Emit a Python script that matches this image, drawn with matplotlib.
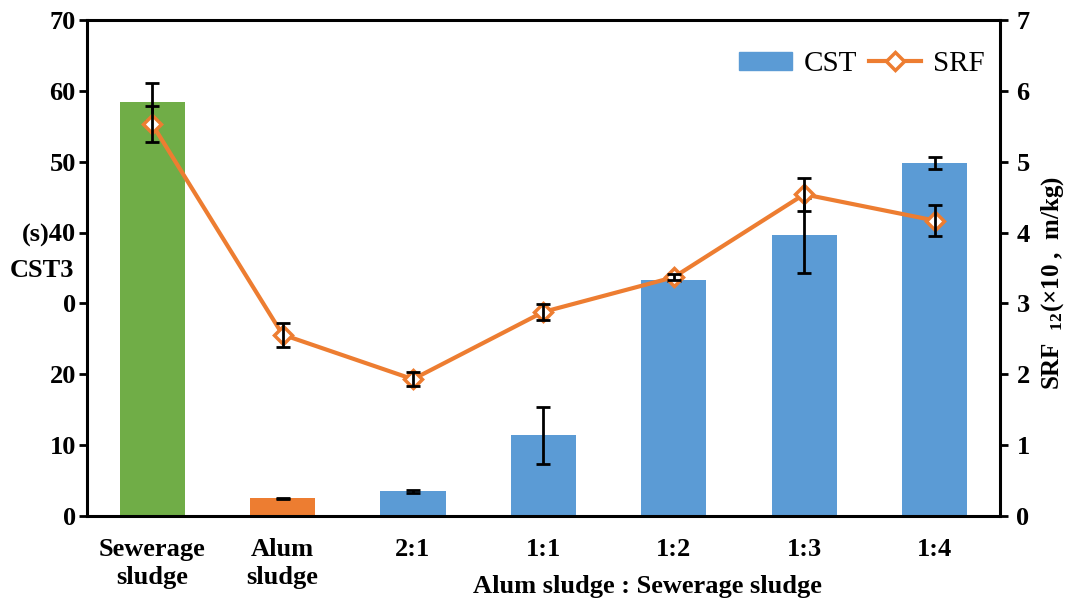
import numpy as np
import matplotlib.pyplot as plt
from matplotlib.patches import Patch
from matplotlib.transforms import blended_transform_factory

plt.rcParams['font.family'] = ['Liberation Serif', 'DejaVu Serif']

# данные
categories = ['Sewerage\nsludge', 'Alum\nsludge', '2:1', '1:1', '1:2', '1:3', '1:4']
cst = [58.4, 2.5, 3.5, 11.4, 33.3, 39.6, 49.8]
cst_err = [2.7, 0.1, 0.2, 4.0, 0.1, 5.3, 0.8]
srf = [5.53, 2.56, 1.93, 2.88, 3.37, 4.54, 4.17]
srf_err = [0.25, 0.17, 0.1, 0.11, 0.04, 0.23, 0.22]
bar_colors = ['#70AD47', '#ED7D31', '#5B9BD5', '#5B9BD5', '#5B9BD5', '#5B9BD5', '#5B9BD5']
left_ticks = [0, 10, 20, 30, 40, 50, 60, 70]
left_labels = ['0', '10', '20', '0', '(s)40', '50', '60', '70']

fig = plt.figure(figsize=(10.67, 6.04), dpi=100)
ax = fig.add_axes([0.0815, 0.1457, 0.8555, 0.8212])
x = np.arange(len(categories))

ax.bar(x, cst, width=0.5, color=bar_colors, zorder=2)
ax.errorbar(x, cst, yerr=cst_err, fmt='none', ecolor='black', elinewidth=2,
            capsize=5, capthick=2, zorder=3)
ax.set_xlim(-0.5, 6.5)
ax.set_ylim(0, 70)
ax.set_yticks(left_ticks)
ax.set_yticklabels(left_labels)
ax.set_xticks(x)
ax.set_xticklabels(categories, linespacing=1.25)
ax.tick_params(axis='y', labelsize=19, width=2, length=6, pad=2)
ax.tick_params(axis='x', labelsize=19, length=0, pad=16)
for lab in ax.get_xticklabels() + ax.get_yticklabels():
    lab.set_fontweight('bold')
for s in ax.spines.values():
    s.set_linewidth(2.2)

# кусок подписи оси, наложившийся на метки
trans = blended_transform_factory(ax.transAxes, ax.transData)
ax.annotate('CST3', xy=(0, 34.7), xycoords=trans, xytext=(-9, 0),
            textcoords='offset points', ha='right', va='center',
            fontsize=19, fontweight='bold')

ax2 = ax.twinx()
ax2.set_ylim(0, 7)
ax2.set_yticks(range(8))
line, = ax2.plot(x, srf, color='#ED7D31', lw=3, marker='D', markersize=9,
                 markerfacecolor='white', markeredgecolor='#ED7D31',
                 markeredgewidth=2.5, zorder=4)
ax2.errorbar(x, srf, yerr=srf_err, fmt='none', ecolor='black', elinewidth=2,
             capsize=5, capthick=2, zorder=5)
ax2.tick_params(axis='y', labelsize=19, width=2, length=6, pad=6)
for lab in ax2.get_yticklabels():
    lab.set_fontweight('bold')
ax2.set_ylabel(r'SRF  $\mathregular{_{12}}$(×10 ,  m/kg)', fontsize=18,
               fontweight='bold')
ax2.yaxis.set_label_coords(1.043, 0.47)

ax.set_xlabel('Alum sludge : Sewerage sludge', fontsize=19, fontweight='bold')
ax.xaxis.set_label_coords(0.614, -0.118)

cst_patch = Patch(color='#5B9BD5')
ax2.legend([cst_patch, line], ['CST', 'SRF'], loc='upper right', ncol=2, frameon=False,
           fontsize=21, bbox_to_anchor=(1.012, 0.99), handlelength=1.8,
           handleheight=0.6, columnspacing=0.4, handletextpad=0.4)

fig.savefig('out.png', dpi=100)
